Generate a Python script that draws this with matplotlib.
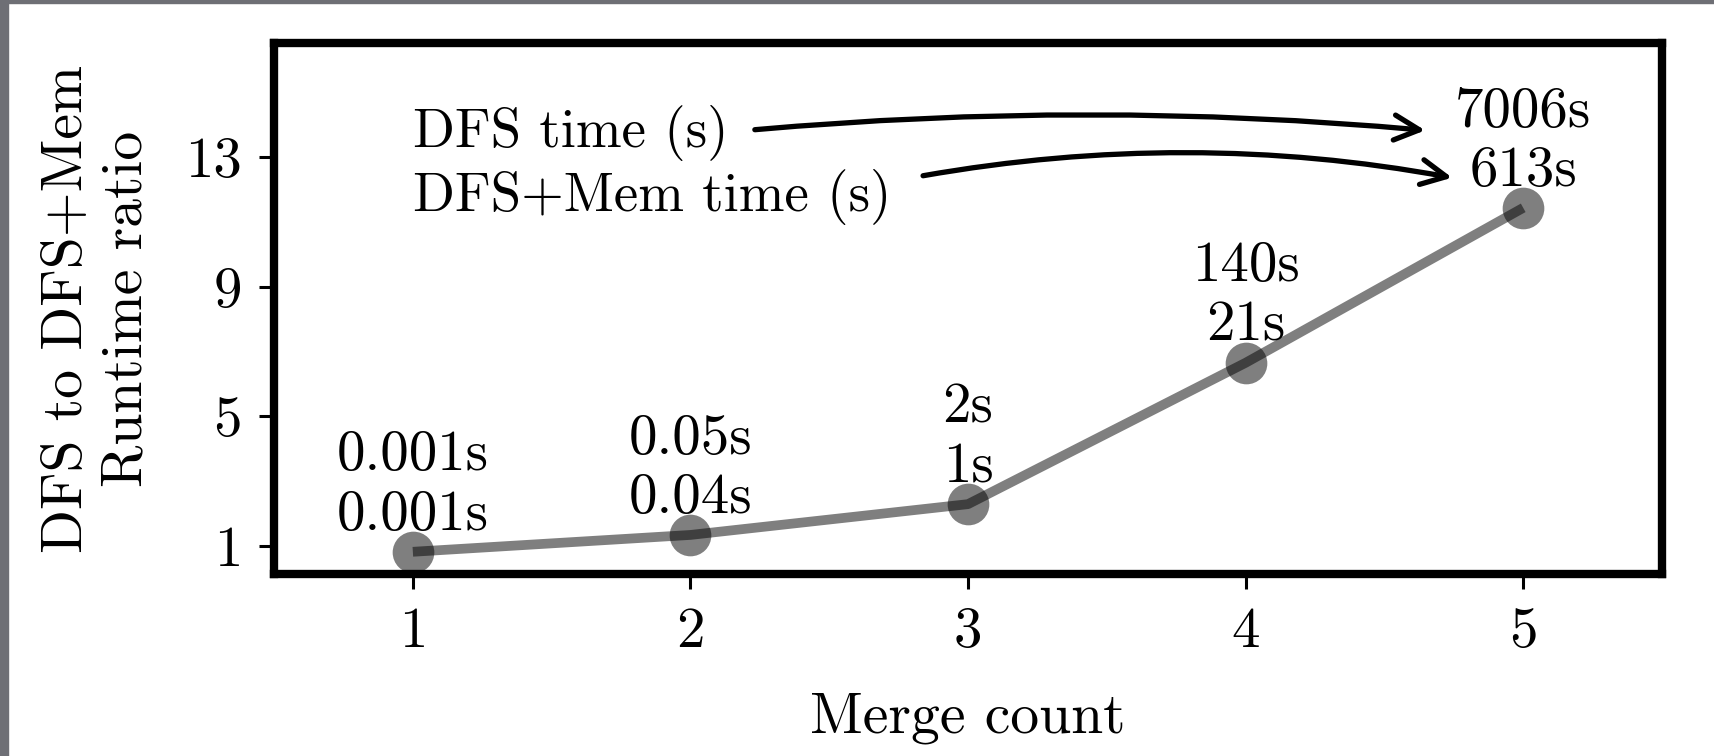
import matplotlib
matplotlib.use("Agg")
import matplotlib.pyplot as plt
from matplotlib.patches import Rectangle

plt.rcParams['font.family'] = 'serif'
plt.rcParams['font.serif'] = ['cmr10']
plt.rcParams['mathtext.fontset'] = 'cm'
plt.rcParams['axes.unicode_minus'] = False
plt.rcParams['font.size'] = 40

merge_count = [1, 2, 3, 4, 5]
runtime_ratio = [0.82, 1.34, 2.29, 6.65, 11.43]
dfs_time = ['0.001s', '0.05s', '2s', '140s', '7006s']
dfs_mem_time = ['0.001s', '0.04s', '1s', '21s', '613s']
yticks = [1, 5, 9, 13]

fig = plt.figure(figsize=(17.15, 7.56), dpi=100)
ax = fig.add_axes([0.1598, 0.2401, 0.8093, 0.7024])

# frame strips along the left and top edges
fig.patches.append(Rectangle((0, 0), 8 / 1715, 1, transform=fig.transFigure,
                             color='#6e6f75', zorder=-1))
fig.patches.append(Rectangle((0, 1 - 3 / 756), 1, 3 / 756, transform=fig.transFigure,
                             color='#6e6f75', zorder=-1))

ax.plot(merge_count, runtime_ratio, color='black', alpha=0.5, lw=7,
        solid_capstyle='butt')
ax.scatter(merge_count, runtime_ratio, s=900, color='black', alpha=0.5,
           linewidths=0, zorder=3)

for x, y, t1, t2 in zip(merge_count, runtime_ratio, dfs_time, dfs_mem_time):
    ax.annotate(t1 + '\n' + t2, (x, y), xytext=(0, 8), textcoords='offset points',
                ha='center', va='bottom', fontsize=41, linespacing=1.2)

ax.text(1.0, 13.73, 'DFS time (s)', ha='left', va='center', fontsize=39.5)
ax.text(1.0, 11.77, 'DFS+Mem time (s)', ha='left', va='center', fontsize=39.5)
ax.annotate('', xy=(4.647, 13.82), xytext=(2.232, 13.84),
            arrowprops=dict(arrowstyle='->', lw=3.8, color='black',
                            mutation_scale=45, shrinkA=0, shrinkB=0,
                            connectionstyle='arc3,rad=-0.045'))
ax.annotate('', xy=(4.744, 12.36), xytext=(2.838, 12.42),
            arrowprops=dict(arrowstyle='->', lw=3.8, color='black',
                            mutation_scale=45, shrinkA=0, shrinkB=0,
                            connectionstyle='arc3,rad=-0.09'))

ax.set_xlim(0.5, 5.5)
ax.set_ylim(0.12, 16.5)
ax.set_xticks(merge_count)
ax.set_yticks(yticks)
ax.tick_params(length=11, width=2.2, pad=12, labelsize=41)
for s in ax.spines.values():
    s.set_linewidth(6)
ax.set_xlabel('Merge count', fontsize=41.5, labelpad=25)
ax.set_ylabel('DFS to DFS+Mem\nRuntime ratio', fontsize=41.5, linespacing=1.2,
              labelpad=24)

fig.savefig('out.png', dpi=100)
